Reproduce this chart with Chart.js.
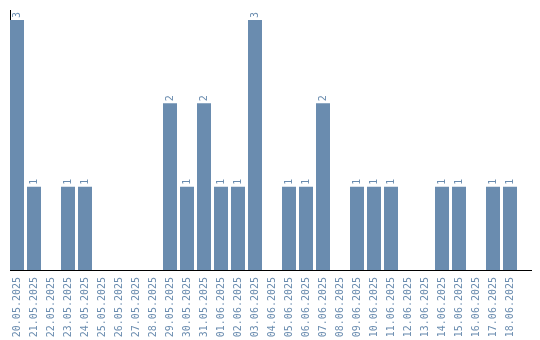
<!DOCTYPE html>
<html>
<head>
<meta charset="utf-8">
<script src="https://cdn.jsdelivr.net/npm/chart.js@4"></script>
<style>
  html, body { margin: 0; padding: 0; background: #fff; }
  #wrap { width: 540px; height: 340px; }
</style>
</head>
<body>
<div id="wrap"><canvas id="barChart"></canvas></div>
<script>
// Daily counts, 20.05.2025 - 18.06.2025
const days = ['20.05.2025', '21.05.2025', '22.05.2025', '23.05.2025', '24.05.2025',
  '25.05.2025', '26.05.2025', '27.05.2025', '28.05.2025', '29.05.2025',
  '30.05.2025', '31.05.2025', '01.06.2025', '02.06.2025', '03.06.2025',
  '04.06.2025', '05.06.2025', '06.06.2025', '07.06.2025', '08.06.2025',
  '09.06.2025', '10.06.2025', '11.06.2025', '12.06.2025', '13.06.2025',
  '14.06.2025', '15.06.2025', '16.06.2025', '17.06.2025', '18.06.2025'];
const counts = [3, 1, 0, 1, 1, 0, 0, 0, 0, 2,
  1, 2, 1, 1, 3, 0, 1, 1, 2, 0,
  1, 1, 1, 0, 0, 1, 1, 0, 1, 1];

const blue = '#6a8caf';
const mono = { family: '"DejaVu Sans Mono", monospace', size: 10 };

// value labels written upward above each bar
const valueLabels = {
  id: 'valueLabels',
  afterDatasetsDraw(chart) {
    const ctx = chart.ctx;
    const meta = chart.getDatasetMeta(0);
    ctx.save();
    ctx.fillStyle = blue;
    ctx.font = '10px "DejaVu Sans Mono", monospace';
    ctx.textBaseline = 'middle';
    ctx.textAlign = 'left';
    meta.data.forEach((bar, i) => {
      if (!counts[i]) return;
      ctx.save();
      ctx.translate(bar.x, bar.y - 2);
      ctx.rotate(-Math.PI / 2);
      ctx.fillText(String(counts[i]), 0, 0);
      ctx.restore();
    });
    ctx.restore();
  }
};

new Chart(document.getElementById('barChart'), {
  type: 'bar',
  data: {
    datasets: [{
      data: counts.map((v, i) => ({ x: i, y: v })),
      backgroundColor: blue,
      borderWidth: 0,
      categoryPercentage: 1,
      barPercentage: 14 / 17
    }]
  },
  options: {
    responsive: true,
    maintainAspectRatio: false,
    animation: false,
    layout: { padding: { top: 10, left: 10, right: 9, bottom: 0 } },
    plugins: { legend: { display: false }, tooltip: { enabled: false } },
    scales: {
      x: {
        type: 'linear',
        offset: false,
        min: -0.4118,
        max: 30.235,
        grid: { display: false, offset: false, drawTicks: false },
        border: { display: true, color: '#000', width: 1 },
        afterBuildTicks: s => { s.ticks = days.map((_, i) => ({ value: i })); },
        afterFit: s => {
          s.height = 70;
          s.paddingLeft = 0;
          s.paddingRight = 0;
        },
        ticks: {
          autoSkip: false,
          minRotation: 90,
          maxRotation: 90,
          padding: 7,
          color: blue,
          font: mono,
          callback: v => days[v]
        }
      },
      y: {
        min: 0,
        max: 3.12,
        grid: { display: false },
        border: { display: true, color: '#000', width: 1 },
        ticks: { display: false },
        afterFit: s => {
          s.width = 0;
          s.paddingTop = 0;
          s.paddingBottom = 0;
        }
      }
    }
  },
  plugins: [valueLabels]
});
</script>
</body>
</html>
